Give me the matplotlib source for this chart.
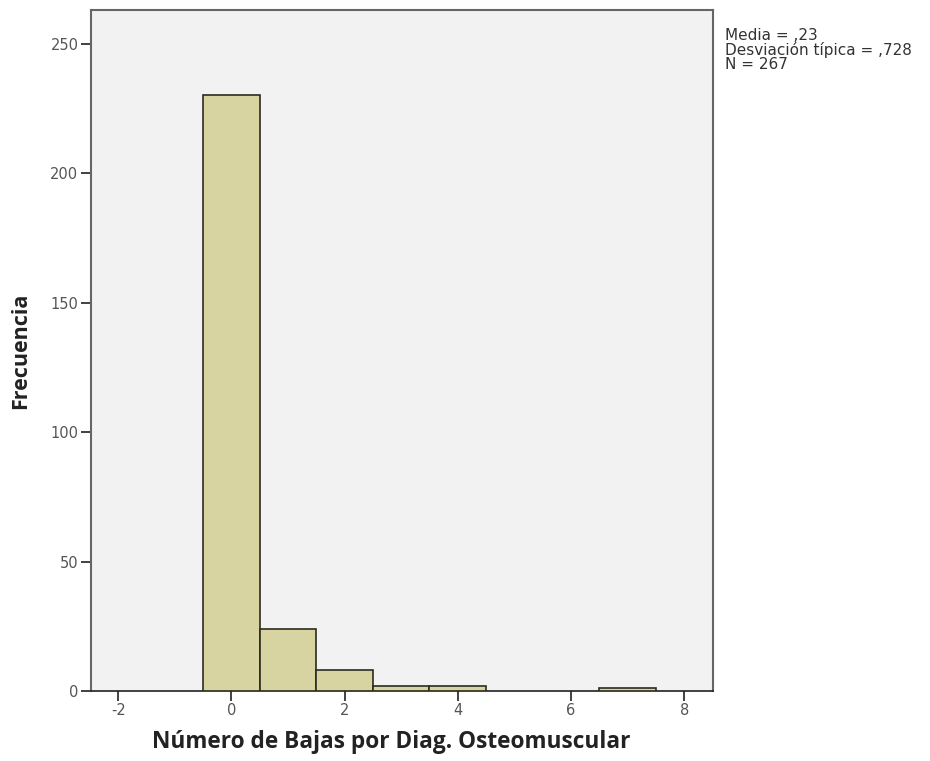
import matplotlib
matplotlib.use("Agg")
import matplotlib.pyplot as plt
from matplotlib import font_manager

# Data
bin_centers = [0, 1, 2, 3, 4, 7]
frequencies = [230, 24, 8, 2, 2, 1]
x_ticks = [-2, 0, 2, 4, 6, 8]
y_ticks = [0, 50, 100, 150, 200, 250]
stats_text = "Media = ,23\nDesviación típica = ,728\nN = 267"

available = {f.name for f in font_manager.fontManager.ttflist}
title_font = "Open Sans" if "Open Sans" in available else "DejaVu Sans"

fig = plt.figure(figsize=(9.3, 7.61), dpi=100)
ax = fig.add_axes([0.0978, 0.092, 0.669, 0.895])
ax.set_facecolor("#f2f2f2")

ax.bar(bin_centers, frequencies, width=1.0, color="#d7d4a2",
       edgecolor="#2b2b1f", linewidth=1.2, zorder=3)

ax.set_xlim(-2.48, 8.51)
ax.set_ylim(0, 263)
ax.set_xticks(x_ticks)
ax.set_yticks(y_ticks)
ax.set_xticklabels([str(t) for t in x_ticks])
ax.set_yticklabels([str(t) for t in y_ticks])

ax.tick_params(axis="both", direction="out", length=7, width=1.3,
               color="#333333", labelsize=10.5, labelcolor="#555555", pad=2)

for side in ["left", "right", "top"]:
    ax.spines[side].set_color("#666666")
    ax.spines[side].set_linewidth(1.5)
ax.spines["bottom"].set_color("#222222")
ax.spines["bottom"].set_linewidth(1.2)

ax.set_ylabel("Frecuencia", fontsize=15.5, fontweight="bold", family=title_font,
              color="#222222", labelpad=14)
ax.set_xlabel("Número de Bajas por Diag. Osteomuscular", fontsize=16.3,
              fontweight="bold", family=title_font, color="#222222", labelpad=9)
ax.xaxis.set_label_coords(0.482, -0.057)

fig.text(0.780, 0.963, stats_text, fontsize=11, color="#333333",
         va="top", ha="left", linespacing=0.92)

fig.savefig("out.png", dpi=100, facecolor="white")
